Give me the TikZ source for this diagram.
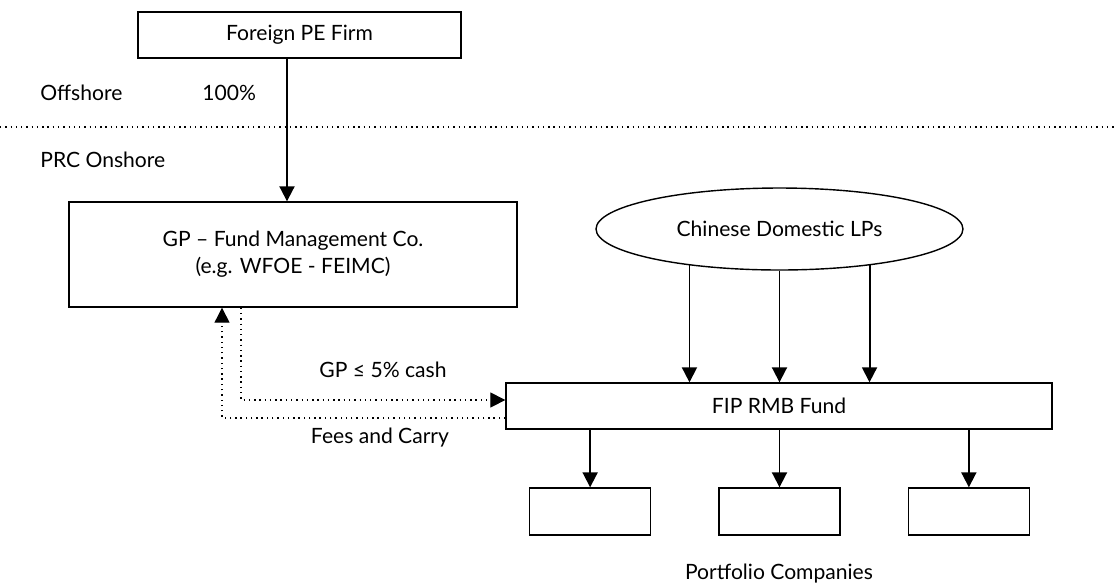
\documentclass[tikz,border=0pt]{standalone}
\usepackage{fontspec}
\setmainfont{Lato}
\usetikzlibrary{arrows.meta,positioning,shapes.geometric}
\definecolor{ink}{HTML}{000000}
\tikzset{
  basebox/.style={draw=ink,line width=0.8pt,fill=white,align=center,font=\fontsize{12}{15.5}\selectfont,inner sep=3pt},
  orgbox/.style={basebox},
  pcbox/.style={basebox,minimum width=2.42cm,minimum height=0.94cm},
  lpsshape/.style={basebox,ellipse,minimum width=7.34cm,minimum height=1.64cm},
  note/.style={font=\fontsize{12}{15.5}\selectfont,inner sep=0pt},
  arrow/.style={-{Triangle[length=0.3cm,width=0.3cm]},line width=1.1pt,draw=ink},
  dotarrow/.style={-{Triangle[length=0.3cm,width=0.3cm]},line width=0.7pt,draw=ink,dash pattern=on 0.8pt off 2.2pt},
  divider/.style={line width=0.7pt,draw=ink,dash pattern=on 0.8pt off 2.2pt}
}

\begin{document}
\begin{tikzpicture}[x=0.02cm,y=-0.02cm]
    \useasboundingbox (0,0) rectangle (1117,583);
    % offshore / onshore split
    \draw[divider] (0,127) -- (1117,127);
    \node[note,anchor=west] (off) at (40,93) {Offshore};
    \node[note,anchor=west] (pct) at (202,93) {100\%};
    \node[note,anchor=west] (on) at (40,160) {PRC Onshore};

    \node[orgbox,minimum width=6.46cm,minimum height=0.92cm] (firm) at (299.5,35) {Foreign PE Firm};
    \node[orgbox,minimum width=8.96cm,minimum height=2.1cm] (gp) at (293,254.5) {GP -- Fund Management Co.\\(e.g. WFOE - FEIMC)};
    \node[lpsshape] (lps) at (779.5,229) {Chinese Domestic LPs};
    \node[orgbox,minimum width=10.92cm,minimum height=0.92cm] (fund) at (779,406) {FIP RMB Fund};
    \node[pcbox] (pc2) at (779.5,511.5) {};
    \node[pcbox,left=1.34cm of pc2] (pc1) {};
    \node[pcbox,right=1.34cm of pc2] (pc3) {};
    \node[note] (pcs) at (779,574) {Portfolio Companies};

    \draw[arrow] ([xshift=-0.25cm]firm.south) -- ([xshift=-0.25cm]firm.south |- gp.north);
    \foreach \a in {-158,-90,-22}
      \draw[arrow] (lps.\a) -- (lps.\a |- fund.north);
    \foreach \i in {1,2,3}
      \draw[arrow] (fund.south -| pc\i.north) -- (pc\i.north);

    % capital and fee flows
    \draw[dotarrow] ([xshift=-1.04cm]gp.south) |- ([yshift=0.12cm]fund.west);
    \draw[dotarrow] ([yshift=-0.24cm]fund.west) -| ([xshift=-1.42cm]gp.south);
    \node[note] (cash) at (383,370) {GP ≤ 5\% cash};
    \node[note] (fees) at (380,438) {Fees and Carry};
  \end{tikzpicture}
\end{document}
